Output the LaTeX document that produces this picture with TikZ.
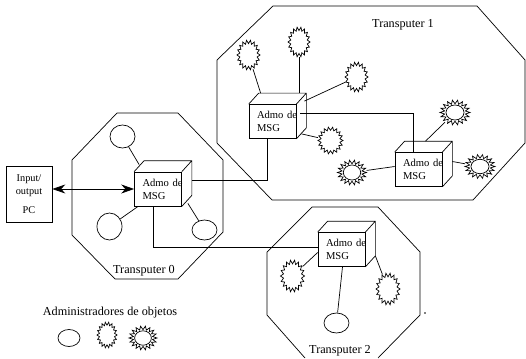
\documentclass[tikz,border=0pt]{standalone}
\usepackage{fontspec}
\setmainfont{Liberation Serif}
\usetikzlibrary{shapes.geometric,arrows.meta}
\newcommand\spikyobj[6]{%
  \node[spk, minimum width={2*#4}, minimum height={2*#5}] (#1) at (#2,#3) {};
  \draw plot[domain=0:360, samples=37] ({#2+#4*(1-#6+#6*cos(18*\x))*cos(\x)}, {#3+#5*(1-#6+#6*cos(18*\x))*sin(\x)}) -- cycle;}
\newcommand\sunobj[5]{%
  \spikyobj{#1}{#2}{#3}{#4}{#5}{0.15}
  \draw (#2,#3) ellipse [x radius={0.6*#4}, y radius={0.6*#5}];}
\newcommand\cubeback[1]{%
  \draw (#1.north west) -- ++(10,-11) -- ([shift={(10,-11)}]#1.north east) -- ([shift={(10,-11)}]#1.south east) -- (#1.south east)
        (#1.north east) -- ++(10,-11);}
\begin{document}
\begin{tikzpicture}[x=1pt, y=-1pt, line width=0.7pt,
  cube/.style={draw, rectangle, minimum width=47pt, minimum height=34pt, inner xsep=8pt, inner ysep=0pt,
    text width=31pt, align=left, font=\fontsize{10.6}{12.8}\selectfont},
  oval/.style={draw, ellipse, inner sep=0pt},
  spk/.style={ellipse, inner sep=0pt},
  lbl/.style={font=\fontsize{12.2}{14}\selectfont, inner sep=0pt},
  dbl/.style={{Stealth[length=13pt,width=9pt]}-{Stealth[length=13pt,width=9pt]}}
]
\fill[white] (0,0) rectangle (526,358);
\useasboundingbox (0,0) rectangle (526,358);

% transputer octagons
\draw (117,113) -- (178,113) -- (223,160) -- (223,232) -- (178,279) -- (115,279) -- (72,235) -- (72,160) -- cycle;
\draw (273,6) -- (477,6) -- (525,60) -- (525,143) -- (473,200) -- (272,200) -- (217,143) -- (217,60) -- cycle;
\draw (305,358) -- (267,315) -- (267,252) -- (312,207) -- (378,207) -- (420,252) -- (420,315) -- (378,358);

\node[lbl] (t0) at (144,271) {Transputer 0};
\node[lbl] (t1) at (403,25) {Transputer 1};
\node[lbl] (t2) at (340,351) {Transputer 2};
\node[lbl] (leg) at (110,313) {Administradores de objetos};

% PC
\node[draw, minimum width=46pt, minimum height=56pt, align=center, inner sep=0pt,
  font=\fontsize{10.3}{13}\selectfont] (pc) at (29,194) {Input/\\output\\[6pt]PC};

% cubes
\node[cube] (c0) at (158,189) {Admo~de\\MSG};
\node[cube] (c1) at (272.5,121.5) {Admo~de\\MSG};
\node[cube] (c2) at (418.5,169.5) {Admo~de\\MSG};
\node[cube] (c3) at (341.5,249.5) {Admo~de\\MSG};
\cubeback{c0}
\cubeback{c1}
\cubeback{c2}
\cubeback{c3}

% ellipses
\node[oval, minimum width=25pt, minimum height=23pt] (e1) at (122.5,136.5) {};
\node[oval, minimum width=25pt, minimum height=27pt] (e2) at (109.5,226.5) {};
\node[oval, minimum width=25pt, minimum height=20pt] (e3) at (204.5,230) {};
\node[oval, minimum width=25pt, minimum height=20pt] (e4) at (336.5,323) {};
\node[oval, minimum width=22pt, minimum height=17pt] (le) at (69,338) {};

% spiky objects
\spikyobj{sa}{248.5}{55}{11.5}{15}{0.12}
\spikyobj{sb}{299}{42}{11}{15}{0.12}
\spikyobj{sc}{356.5}{77}{11.5}{15}{0.12}
\spikyobj{sd}{330.5}{140.5}{12.5}{13.5}{0.12}
\spikyobj{s2a}{292.5}{276}{12}{16}{0.12}
\spikyobj{s2b}{388}{289}{12}{16}{0.12}
\spikyobj{ls}{107}{335}{10}{13}{0.12}
\sunobj{se}{455}{112.5}{15}{12.5}
\sunobj{sf}{352}{172.5}{14.5}{12.5}
\sunobj{sg}{480}{166.5}{15}{12}
\sunobj{lsun}{143}{338}{14}{12}

% connectors
\draw[dbl] (pc.east |- c0.west) -- (c0.west);
\draw (e1) -- ([shift={(5,-7)}]c0.north west);
\draw (e2) -- ([shift={(4,0)}]c0.south west);
\draw ([shift={(6,-3)}]c0.south east) -- (e3);
\draw ([shift={(10,-9)}]c0.east) -| ([shift={(-5,0)}]c1.south);
\draw ([shift={(-5,0)}]c0.south) |- ([shift={(0,-2)}]c3.west);
\draw (sa) -- ([shift={(12,-11)}]c1.north west);
\coordinate (c1top) at ([shift={(0,-11)}]c1.north);
\draw (sb) -- (sb |- c1top);
\draw ([shift={(8,-3)}]c1.north east) -- (sc);
\draw ([shift={(5,-5)}]c1.south east) -- (sd);
\draw ([shift={(4,-8)}]c1.east) -| ([shift={(-5,0)}]c2.north);
\draw ([shift={(7,-11)}]c2.north) -- (se);
\draw (sf) -- ([shift={(0,-3)}]c2.west);
\draw ([shift={(10,-8)}]c2.east) -- (sg);
\draw (s2a) -- ([shift={(0,3)}]c3.west);
\draw ([shift={(10,-11)}]c3.south east) -- (s2b);
\draw ([shift={(1,0)}]c3.south) -- (e4);

\fill (425,313) circle (0.8);
\end{tikzpicture}
\end{document}
